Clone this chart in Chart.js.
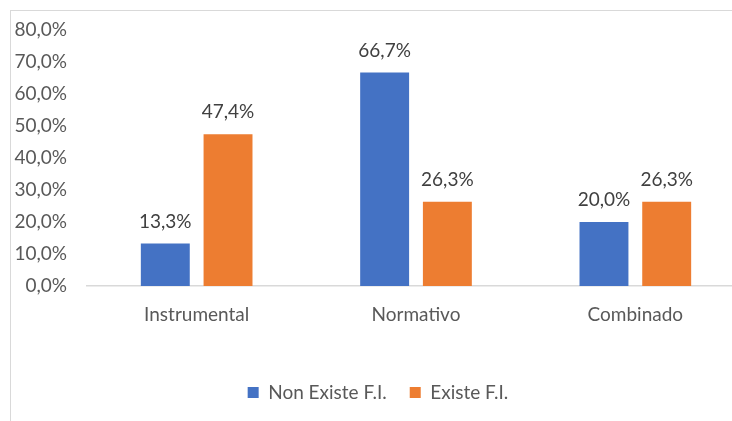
<!DOCTYPE html>
<html>
<head>
<meta charset="utf-8">
<script src="https://cdn.jsdelivr.net/npm/chart.js@4.4.0/dist/chart.umd.min.js"></script>
<style>
  html, body { margin: 0; padding: 0; background: #fff; overflow: hidden; }
  #frame {
    position: absolute; left: 10px; top: 10px;
    width: 734px; height: 410px;
    border-left: 1px solid #d9d9d9; border-top: 1px solid #d9d9d9;
  }
</style>
</head>
<body>
<div id="frame"><canvas id="chart"></canvas></div>
<script>
const categories = ['Instrumental', 'Normativo', 'Combinado'];
const nonExiste = [13.3, 66.7, 20.0];
const existe = [47.4, 26.3, 26.3];
const seriesNames = ['Non Existe F.I.', 'Existe F.I.'];
const yTicks = [0, 10, 20, 30, 40, 50, 60, 70, 80];

const FONT = 'Lato';
const pct = v => v.toFixed(1).replace('.', ',') + '%';

// value labels above each bar
const barLabels = {
  id: 'barLabels',
  afterDatasetsDraw(chart) {
    const ctx = chart.ctx;
    ctx.save();
    ctx.font = '19px ' + FONT;
    ctx.fillStyle = '#404040';
    ctx.textAlign = 'center';
    ctx.textBaseline = 'middle';
    chart.data.datasets.forEach((ds, i) => {
      chart.getDatasetMeta(i).data.forEach((bar, j) => {
        ctx.fillText(pct(ds.data[j]), bar.x, bar.y - 22);
      });
    });
    ctx.restore();
  }
};

const ctx = document.getElementById('chart').getContext('2d');
new Chart(ctx, {
  type: 'bar',
  data: {
    labels: categories,
    datasets: [
      { label: seriesNames[0], data: nonExiste, backgroundColor: '#4472C4' },
      { label: seriesNames[1], data: existe, backgroundColor: '#ED7D31' }
    ]
  },
  options: {
    responsive: true,
    maintainAspectRatio: false,
    animation: false,
    categoryPercentage: 0.572,
    barPercentage: 0.78,
    layout: { padding: { top: 19, left: 0, right: 0, bottom: 9 } },
    plugins: {
      tooltip: { enabled: false },
      legend: {
        position: 'bottom',
        labels: {
          font: { family: FONT, size: 19 },
          color: '#595959',
          boxWidth: 11,
          boxHeight: 11,
          padding: 23
        }
      }
    },
    scales: {
      x: {
        grid: { display: false, drawTicks: false },
        border: { color: '#d9d9d9', width: 1.5 },
        ticks: { font: { family: FONT, size: 19 }, color: '#595959', padding: 17 },
        afterFit(scale) { scale.height = 74; }
      },
      y: {
        min: 0,
        max: yTicks[yTicks.length - 1],
        grid: { display: false, drawTicks: false },
        border: { display: false },
        afterBuildTicks(scale) { scale.ticks = yTicks.map(v => ({ value: v })); },
        ticks: {
          font: { family: FONT, size: 19 },
          color: '#595959',
          padding: 20,
          callback: v => pct(v)
        },
        afterFit(scale) {
          scale.width = 76;
          scale.paddingTop = 0;
          scale.paddingBottom = 0;
        }
      }
    }
  },
  plugins: [barLabels]
});
</script>
</body>
</html>
